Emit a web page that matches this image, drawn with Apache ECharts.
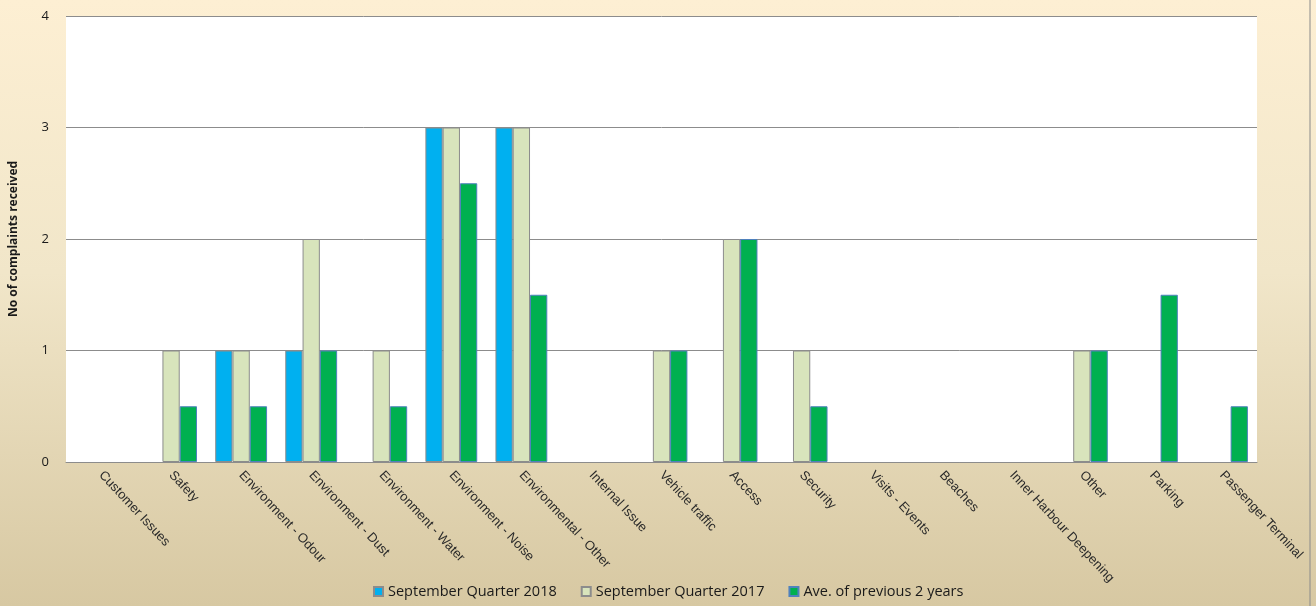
<!DOCTYPE html>
<html>
<head>
<meta charset="utf-8">
<script src="https://cdn.jsdelivr.net/npm/echarts@6/dist/echarts.min.js"></script>
<style>
  html, body { margin: 0; padding: 0; }
  #chart { width: 1316px; height: 606px; }
</style>
</head>
<body>
<div id="chart"></div>
<script>
// Complaint categories along the x axis
const categories = [
  'Customer Issues', 'Safety', 'Environment - Odour', 'Environment - Dust',
  'Environment - Water', 'Environment - Noise', 'Environmental - Other',
  'Internal Issue', 'Vehicle traffic', 'Access', 'Security', 'Visits - Events',
  'Beaches', 'Inner Harbour Deepening', 'Other', 'Parking', 'Passenger Terminal'
];

// Number of complaints per category
const sepQuarter2018 = [0, 0, 1, 1, 0, 3, 3, 0, 0, 0, 0, 0, 0, 0, 0, 0, 0];
const sepQuarter2017 = [0, 1, 1, 2, 1, 3, 3, 0, 1, 2, 1, 0, 0, 0, 1, 0, 0];
const avgPrev2Years  = [0, 0.5, 0.5, 1, 0.5, 2.5, 1.5, 0, 1, 2, 0.5, 0, 0, 0, 1, 1.5, 0.5];

const seriesNames = ['September Quarter 2018', 'September Quarter 2017', 'Ave. of previous 2 years'];
const yAxisName = 'No of complaints received';

// zero counts leave an empty slot instead of a hairline bar
const hideZero = arr => arr.map(v => (v === 0 ? '-' : v));

const chart = echarts.init(document.getElementById('chart'), null, { renderer: 'canvas' });

const narrowFont = '"Liberation Sans Narrow", "Liberation Sans", Arial, sans-serif';
const bodyFont = '"Open Sans", "Liberation Sans", sans-serif';

chart.setOption({
  animation: false,
  backgroundColor: new echarts.graphic.LinearGradient(0, 0, 0, 1, [
    { offset: 0, color: '#fdefd3' },
    { offset: 0.45, color: '#f1e6c9' },
    { offset: 1, color: '#d7c8a2' }
  ]),
  graphic: [{
    type: 'line',
    shape: { x1: 1310, y1: 0, x2: 1310, y2: 606 },
    style: { stroke: '#8a8a8a', lineWidth: 1 }
  }],
  grid: {
    left: 64, right: 59, top: 16, bottom: 144,
    show: true, backgroundColor: '#ffffff', borderWidth: 0
  },
  legend: {
    bottom: 2, left: 368,
    itemWidth: 9, itemHeight: 9, itemGap: 24,
    icon: 'rect',
    textStyle: { fontFamily: bodyFont, fontSize: 14.5, color: '#1a1a1a' },
    data: seriesNames
  },
  xAxis: {
    type: 'category',
    data: categories,
    axisLine: { show: true, lineStyle: { color: '#8c8c8c', width: 1 } },
    axisTick: { show: false },
    axisLabel: {
      interval: 0, rotate: -47, margin: 11,
      fontFamily: narrowFont, fontSize: 13, color: '#2a2a2a'
    }
  },
  yAxis: {
    type: 'value',
    min: 0, max: 4, interval: 1,
    name: yAxisName,
    nameLocation: 'middle',
    nameGap: 46,
    nameTextStyle: { fontFamily: bodyFont, fontWeight: 'bold', fontSize: 12, color: '#1a1a1a' },
    axisLine: { show: false },
    axisTick: { show: false },
    axisLabel: { fontFamily: bodyFont, fontSize: 13, color: '#1a1a1a', margin: 17 },
    splitLine: { lineStyle: { color: '#8c8c8c', width: 1 } }
  },
  series: [
    {
      name: seriesNames[0], type: 'bar', data: hideZero(sepQuarter2018),
      barGap: '0%', barCategoryGap: '26%',
      itemStyle: { color: '#00b0f0', borderColor: '#8c8c8c', borderWidth: 1 }
    },
    {
      name: seriesNames[1], type: 'bar', data: hideZero(sepQuarter2017),
      itemStyle: { color: '#d8e4bc', borderColor: '#8c8c8c', borderWidth: 1 }
    },
    {
      name: seriesNames[2], type: 'bar', data: hideZero(avgPrev2Years),
      itemStyle: { color: '#00b050', borderColor: '#4f81bd', borderWidth: 1 }
    }
  ]
});
</script>
</body>
</html>
